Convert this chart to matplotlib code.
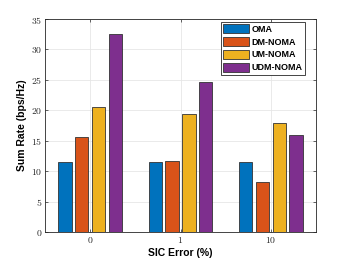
import numpy as np
import matplotlib
matplotlib.use('Agg')
import matplotlib.pyplot as plt

plt.rcParams['mathtext.fontset'] = 'cm'

# Data
sic_error = ['0', '1', '10']
schemes = ['OMA', 'DM-NOMA', 'UM-NOMA', 'UDM-NOMA']
oma = [11.5, 11.5, 11.5]
dm_noma = [15.6, 11.7, 8.2]
um_noma = [20.6, 19.35, 17.9]
udm_noma = [32.6, 24.6, 16.0]

colors = ['#0072BD', '#D95319', '#EDB120', '#7E2F8E']
series = [oma, dm_noma, um_noma, udm_noma]

fig = plt.figure(figsize=(3.49, 2.61), dpi=100)
ax = fig.add_axes([45 / 349, 1 - 232 / 261, 271 / 349, 213 / 261])

x = np.arange(1, len(sic_error) + 1)
step = 0.185
width = 0.148
for i, (vals, c, name) in enumerate(zip(series, colors, schemes)):
    ax.bar(x + (i - 1.5) * step, vals, width, color=c, edgecolor='#333333',
           linewidth=0.6, label=name, zorder=3)

ax.set_xlim(0.5, 3.5)
ax.set_ylim(0, 35)
yt = np.arange(0, 36, 5)
ax.set_xticks(x)
ax.set_xticklabels([f'${s}$' for s in sic_error])
ax.set_yticks(yt)
ax.set_yticklabels([f'${v}$' for v in yt])
ax.grid(True, color='#e6e6e6', linewidth=0.6, zorder=0)
ax.tick_params(direction='in', top=True, right=True, length=2.5, width=0.5,
               labelsize=7, colors='#262626', pad=2)
for s in ax.spines.values():
    s.set_color('#262626')
    s.set_linewidth(0.6)

ax.set_xlabel('SIC Error (%)', fontsize=7.5, fontweight='bold',
              family='Liberation Sans', labelpad=2)
ax.set_ylabel('Sum Rate (bps/Hz)', fontsize=7.5, fontweight='bold',
              family='Liberation Sans', labelpad=3)

leg = ax.legend(loc='upper right', bbox_to_anchor=(0.965, 0.995),
                prop={'family': 'Liberation Sans', 'weight': 'bold', 'size': 6.5},
                fancybox=False, framealpha=1, edgecolor='#262626',
                handlelength=2.8, handleheight=1.2, handletextpad=0.3,
                labelspacing=0.35, borderpad=0.25, borderaxespad=0.2)
leg.get_frame().set_linewidth(0.6)

fig.savefig('out.png', dpi=100)
